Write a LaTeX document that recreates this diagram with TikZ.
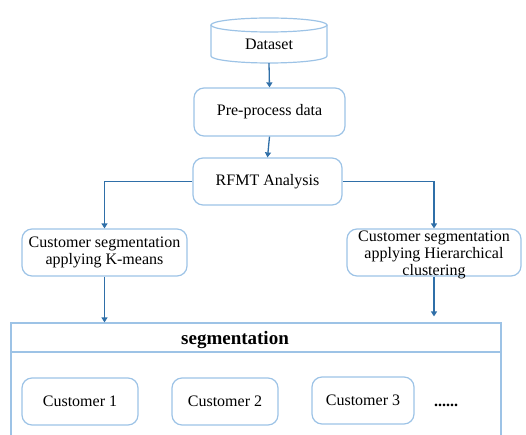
\documentclass[tikz,border=0pt]{standalone}
\usepackage{fontspec}
\setmainfont{Liberation Serif}
\usetikzlibrary{arrows.meta}
\definecolor{boxc}{HTML}{9DC3E6}
\definecolor{arrc}{HTML}{2F6FA8}
\begin{document}
\begin{tikzpicture}[x=1pt,y=-1pt,
  txt/.style={font=\fontsize{16}{17}\selectfont, align=center, inner sep=0pt},
  box/.style={draw=boxc, line width=1.2pt, rounded corners=10pt, txt},
  arr/.style={draw=arrc, line width=1.3pt, -{Triangle[length=5pt,width=6pt]}}]
\useasboundingbox (0,0) rectangle (526,435);
% dataset cylinder
\node (ds) [minimum width=116pt, minimum height=45pt, inner sep=0pt] at (269,40.5) {};
\draw[boxc, line width=1.2pt] (269,25) ellipse [x radius=58, y radius=7];
\draw[boxc, line width=1.2pt] (211,25) -- (211,56) arc[start angle=180, end angle=0, x radius=58, y radius=7] -- (327,25);
\node (dstxt) [txt] at (269,44) {Dataset};
% boxes
\node (pre) [box, minimum width=151pt, minimum height=48pt] at (269.5,112) {Pre-process data};
\node (rfmt) [box, minimum width=149pt, minimum height=47pt] at (267.5,181.5) {RFMT Analysis};
\node (km) [box, minimum width=165pt, minimum height=47pt] at (104.5,252.5) {Customer segmentation\\applying K-means};
\node (hc) [box, minimum width=174pt, minimum height=47pt] at (434,252.5) {};
\node (hctxt) [txt] at (434,255) {Customer segmentation\\applying Hierarchical\\clustering};
% segmentation frame
\draw[boxc, line width=1.2pt] (11,445) -- (11,323) -- (501,323) -- (501,445);
\node (seghead) [draw=boxc, line width=1.2pt, minimum width=490pt, minimum height=29pt, inner sep=0pt] at (256,337.5) {};
\node (segtxt) [font=\fontsize{19}{21}\selectfont\bfseries, inner sep=0pt] at (235,340) {segmentation};
\node (c1) [box, minimum width=116pt, minimum height=47pt] at (80,401.5) {Customer 1};
\node (c2) [box, minimum width=106pt, minimum height=47pt] at (225,401.5) {Customer 2};
\node (c3) [box, minimum width=102pt, minimum height=47pt] at (363,400.5) {Customer 3};
\node (dots) [txt, anchor=base, font=\fontsize{16}{17}\selectfont\bfseries] at (446,406) {......};
% connectors
\draw[arr] (ds.south) -- (pre.north);
\draw[arr] (pre.south) -- (rfmt.north);
\draw[arr] (rfmt.west) -| (km.north);
\draw[arr] (rfmt.east) -| (hc.north);
\draw[arr] (km.south) -- (km.south |- seghead.north);
\draw[arr, shorten >=6pt] (hc.south) -- (hc.south |- seghead.north);
\end{tikzpicture}
\end{document}
